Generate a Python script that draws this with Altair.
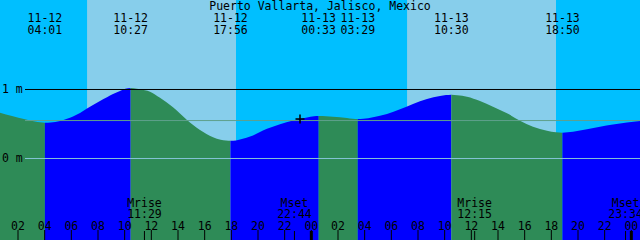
import altair as alt
import pandas as pd

# ---------------- data (hours since 11-12 00:00, levels in metres) ----------------
title = "Puerto Vallarta, Jalisco, Mexico"

sunrise_h = [7.18, 31.18]
sunset_h = [18.35, 42.35]

event_h = [4.017, 10.45, 17.933, 24.55, 27.483, 34.5, 42.833]
event_date = ["11-12", "11-12", "11-12", "11-13", "11-13", "11-13", "11-13"]
event_time = ["04:01", "10:27", "17:56", "00:33", "03:29", "10:30", "18:50"]

moon_h = [11.483, 22.733, 36.25, 47.567]
moon_kind = ["Mrise", "Mset", "Mrise", "Mset"]
moon_time = ["11:29", "22:44", "12:15", "23:34"]

hour_h = [2, 4, 6, 8, 10, 12, 14, 16, 18, 20, 22, 24,
          26, 28, 30, 32, 34, 36, 38, 40, 42, 44, 46, 48]
hour_lab = ["02", "04", "06", "08", "10", "12", "14", "16", "18", "20", "22", "00",
            "02", "04", "06", "08", "10", "12", "14", "16", "18", "20", "22", "00"]
midnight_h = [24, 48]

level_m = [1.0, 0.0]
level_lab = ["1 m", "0 m"]
mean_m = [0.55]

now_h = [23.15]
now_m = [0.572]

# tide curve, one list per rising / falling stretch
seg_dir = ["fall", "rise", "fall", "rise", "fall", "rise", "fall", "rise"]
seg_h = [
    [0.65, 1.55, 2.525, 3.275, 3.65, 4.017],
    [4.017, 4.45, 5.15, 5.675, 6.125, 6.65, 7.175, 7.625, 8.15, 8.675, 9.125, 9.65, 10.05, 10.45],
    [10.45, 10.9, 11.15, 11.9, 12.65, 13.625, 14.675, 15.65, 16.625, 17.2, 17.6, 17.933],
    [17.933, 18.35, 18.65, 19.625, 20.675, 21.65, 22.625, 23.675, 24.2, 24.55],
    [24.55, 25.1, 25.625, 26.675, 27.1, 27.483],
    [27.483, 27.9, 28.625, 29.675, 30.65, 31.625, 32.675, 33.65, 34.1, 34.5],
    [34.5, 34.95, 35.675, 36.65, 37.625, 38.675, 39.65, 40.625, 41.675, 42.35, 42.833],
    [42.833, 43.625, 44.675, 45.65, 46.625, 47.675, 48.65],
]
seg_m = [
    [0.664, 0.616, 0.568, 0.536, 0.524, 0.519],
    [0.519, 0.523, 0.545, 0.575, 0.610, 0.660, 0.725, 0.775, 0.835, 0.888, 0.935, 0.980, 1.010, 1.022],
    [1.022, 1.012, 1.003, 0.968, 0.880, 0.742, 0.558, 0.413, 0.307, 0.272, 0.262, 0.258],
    [0.258, 0.262, 0.275, 0.335, 0.430, 0.497, 0.550, 0.596, 0.613, 0.616],
    [0.616, 0.613, 0.606, 0.587, 0.576, 0.572],
    [0.572, 0.575, 0.597, 0.645, 0.713, 0.790, 0.862, 0.906, 0.920, 0.925],
    [0.925, 0.918, 0.896, 0.833, 0.751, 0.655, 0.548, 0.461, 0.403, 0.380, 0.374],
    [0.374, 0.388, 0.423, 0.461, 0.494, 0.522, 0.545],
]

# ---------------- tables ----------------
rows = []
for i, (d, hs, ms) in enumerate(zip(seg_dir, seg_h, seg_m)):
    for h, m in zip(hs, ms):
        rows.append({"seg": i, "dir": d, "h": h, "m": m})
tide_df = pd.DataFrame(rows)
sun_df = pd.DataFrame({"rise": sunrise_h, "set": sunset_h})
ev_df = pd.DataFrame({"h": event_h, "date": event_date, "time": event_time})
moon_df = pd.DataFrame({"h": moon_h, "kind": moon_kind, "time": moon_time})
hour_df = pd.DataFrame({"h": hour_h, "lab": hour_lab})
mid_df = pd.DataFrame({"h": midnight_h})
lev_df = pd.DataFrame({"m": level_m, "lab": level_lab})
mean_df = pd.DataFrame({"m": mean_m})
now_df = pd.DataFrame({"h": now_h, "m": now_m})
title_df = pd.DataFrame({"t": [title]})

W, H = 640, 240
FONT = "DejaVu Sans Mono"
FS = 11.5
xs = alt.Scale(domain=[0.65, 48.65], nice=False, zero=False)
ys = alt.Scale(domain=[-1.1812, 2.2971], nice=False, zero=False)


def X(f):
    return alt.X(f, type="quantitative", scale=xs, axis=None)


def Y(f):
    return alt.Y(f, type="quantitative", scale=ys, axis=None, stack=None)


day = alt.Chart(sun_df).mark_rect(color="#87CEEB").encode(
    x=X("rise"), x2="set", y=alt.value(0), y2=alt.value(H))

tide = alt.Chart(tide_df).mark_area(interpolate="monotone", opacity=1).encode(
    x=X("h"), y=Y("m"), y2=alt.value(H),
    color=alt.Color("dir:N", scale=alt.Scale(domain=["rise", "fall"],
                                             range=["#0000FF", "#2E8B57"]), legend=None),
    detail="seg:N")

one_line = alt.Chart(lev_df).transform_filter("datum.m == 1").mark_rule(
    color="black", strokeWidth=1).encode(y=Y("m"), x=alt.value(25), x2=alt.value(W))
zero_line = alt.Chart(lev_df).transform_filter("datum.m == 0").mark_rule(
    color="#84C3D6", strokeWidth=1).encode(y=Y("m"), x=alt.value(25), x2=alt.value(W))
mean_line = alt.Chart(mean_df).mark_rule(color="#5FA08C", strokeWidth=1).encode(
    y=Y("m"), x=alt.value(25), x2=alt.value(W))

lev_text = alt.Chart(lev_df).mark_text(
    align="left", baseline="alphabetic", dy=3.5, font=FONT, fontSize=FS, color="black"
).encode(x=alt.value(2), y=Y("m"), text="lab:N")

title_text = alt.Chart(title_df).mark_text(
    align="center", baseline="alphabetic", font=FONT, fontSize=FS, color="black"
).encode(x=alt.value(W / 2), y=alt.value(10), text="t:N")

ev_date = alt.Chart(ev_df).mark_text(
    align="center", baseline="alphabetic", font=FONT, fontSize=FS, color="black"
).encode(x=X("h"), y=alt.value(22), text="date:N")
ev_time = alt.Chart(ev_df).mark_text(
    align="center", baseline="alphabetic", font=FONT, fontSize=FS, color="black"
).encode(x=X("h"), y=alt.value(34), text="time:N")

moon_kind_t = alt.Chart(moon_df).mark_text(
    align="center", baseline="alphabetic", font=FONT, fontSize=FS, color="black"
).encode(x=X("h"), y=alt.value(207), text="kind:N")
moon_time_t = alt.Chart(moon_df).mark_text(
    align="center", baseline="alphabetic", font=FONT, fontSize=FS, color="black"
).encode(x=X("h"), y=alt.value(218), text="time:N")
moon_tick = alt.Chart(moon_df).mark_rule(color="black", strokeWidth=1).encode(
    x=X("h"), y=alt.value(231), y2=alt.value(H))

hour_text = alt.Chart(hour_df).mark_text(
    align="center", baseline="alphabetic", font=FONT, fontSize=FS, color="black"
).encode(x=X("h"), y=alt.value(229.5), text="lab:N")
hour_tick = alt.Chart(hour_df).mark_rule(color="black", strokeWidth=1).encode(
    x=X("h"), y=alt.value(230), y2=alt.value(H))
mid_tick = alt.Chart(mid_df).mark_rule(color="black", strokeWidth=3).encode(
    x=X("h"), y=alt.value(231), y2=alt.value(H))

now_mark = alt.Chart(now_df).mark_point(
    shape="M-1,0L1,0M0,-1L0,1", size=81, filled=False, stroke="black",
    strokeWidth=1.5, opacity=1
).encode(x=X("h"), y=Y("m"))

chart = alt.layer(
    day, tide, one_line, mean_line, zero_line, lev_text, title_text,
    ev_date, ev_time, moon_kind_t, moon_time_t, hour_text, hour_tick,
    moon_tick, mid_tick, now_mark
).properties(
    width=W, height=H, padding=0,
    autosize=alt.AutoSizeParams(type="none")
).configure_view(fill="#00BFFF", stroke=None)

chart.save("out.html", embed_options={"renderer": "svg", "actions": False})
